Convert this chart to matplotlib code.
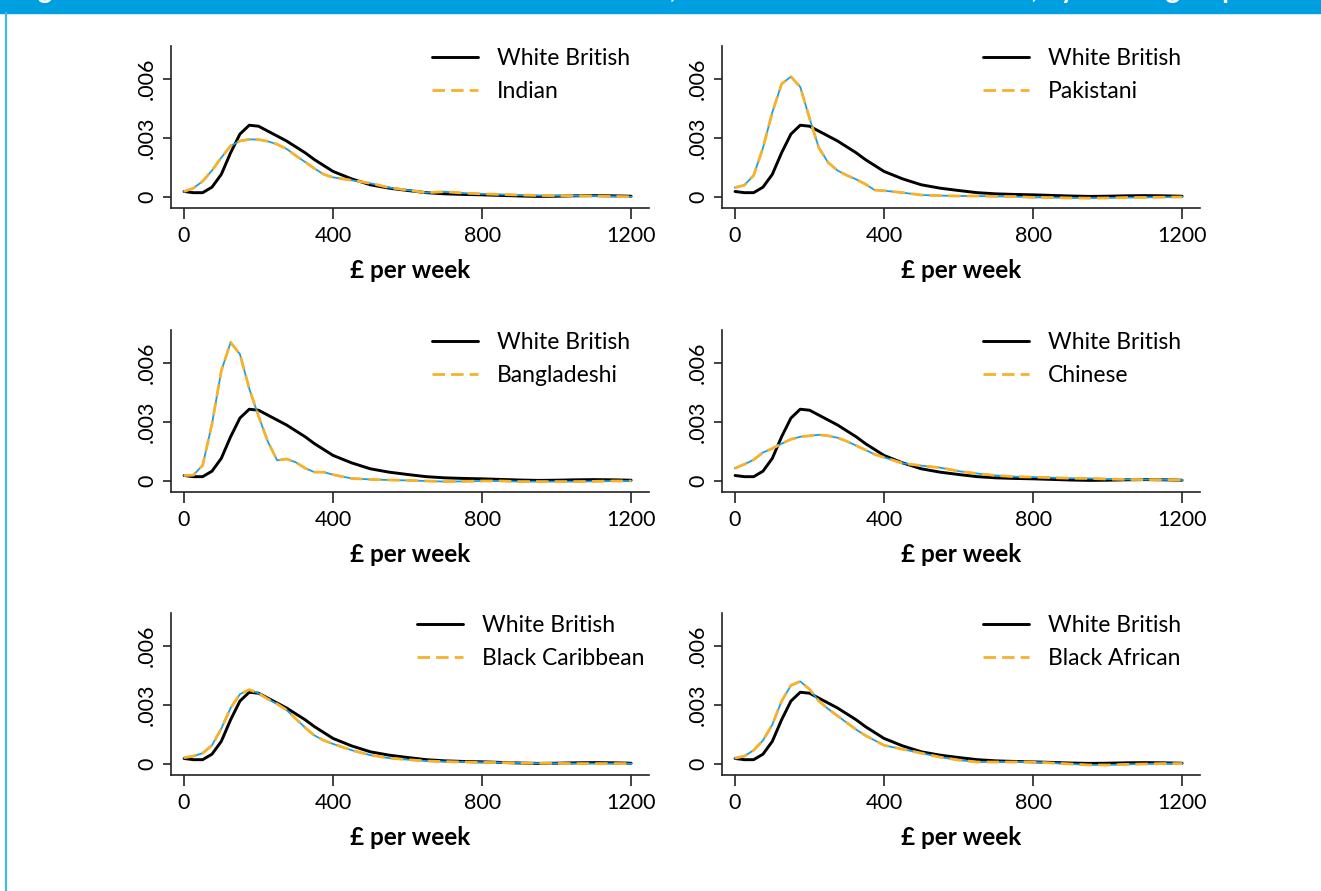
import matplotlib
matplotlib.use("Agg")
import matplotlib.pyplot as plt
from matplotlib.patches import Rectangle
from matplotlib.lines import Line2D

plt.rcParams['font.family'] = ['Lato', 'DejaVu Sans']

# income grid (GBP per week)
x = [0, 25, 50, 75, 100, 125, 150, 175, 200, 225, 250, 275, 300, 325, 350, 375, 400,
     450, 500, 550, 600, 650, 700, 750, 800, 850, 900, 950, 1000, 1050, 1100, 1150, 1200]

# densities, in units of 0.001
white_british = [0.28, 0.22, 0.22, 0.50, 1.15, 2.25, 3.2, 3.65, 3.6, 3.35, 3.1, 2.85, 2.55, 2.25, 1.9, 1.6, 1.3,
                 0.92, 0.62, 0.45, 0.33, 0.22, 0.16, 0.13, 0.11, 0.08, 0.05, 0.03, 0.04, 0.06, 0.07, 0.06, 0.04]
indian = [0.28, 0.45, 0.8, 1.35, 2.0, 2.6, 2.85, 2.93, 2.92, 2.83, 2.68, 2.45, 2.1, 1.78, 1.45, 1.15, 1.0,
          0.85, 0.7, 0.48, 0.35, 0.22, 0.27, 0.2, 0.16, 0.13, 0.1, 0.08, 0.07, 0.06, 0.05, 0.03, 0.01]
pakistani = [0.48, 0.6, 1.1, 2.5, 4.3, 5.75, 6.12, 5.6, 4.0, 2.5, 1.75, 1.35, 1.1, 0.9, 0.65, 0.35, 0.32,
             0.22, 0.1, 0.07, 0.05, 0.05, 0.03, 0.02, -0.02, -0.03, -0.05, -0.06, -0.05, -0.03, -0.02, -0.01, 0.0]
bangladeshi = [0.28, 0.3, 0.8, 2.9, 5.6, 7.05, 6.45, 4.7, 3.3, 2.0, 1.05, 1.12, 0.95, 0.65, 0.45, 0.45, 0.32,
               0.13, 0.08, 0.05, 0.03, 0.0, -0.03, -0.02, 0.0, 0.0, -0.03, -0.03, -0.03, -0.03, -0.02, 0.0, 0.0]
chinese = [0.65, 0.85, 1.08, 1.45, 1.65, 1.9, 2.12, 2.25, 2.3, 2.35, 2.3, 2.2, 2.02, 1.8, 1.58, 1.35, 1.2,
           0.9, 0.78, 0.68, 0.5, 0.38, 0.28, 0.22, 0.2, 0.17, 0.14, 0.13, 0.1, 0.08, 0.07, 0.06, 0.05]
black_caribbean = [0.32, 0.4, 0.55, 0.95, 1.8, 2.85, 3.55, 3.78, 3.6, 3.3, 3.05, 2.75, 2.3, 1.85, 1.45, 1.2, 1.02,
                   0.7, 0.45, 0.3, 0.22, 0.15, 0.12, 0.1, 0.08, 0.07, 0.05, 0.04, 0.03, 0.02, 0.02, 0.02, 0.02]
black_african = [0.3, 0.4, 0.7, 1.2, 2.0, 3.2, 4.0, 4.2, 3.8, 3.2, 2.8, 2.45, 2.1, 1.75, 1.45, 1.2, 0.95,
                 0.75, 0.55, 0.35, 0.2, 0.1, 0.1, 0.1, 0.1, 0.05, 0.0, -0.05, -0.05, -0.02, 0.0, 0.02, 0.02]

groups = ["Indian", "Pakistani", "Bangladeshi", "Chinese", "Black Caribbean", "Black African"]
group_values = [indian, pakistani, bangladeshi, chinese, black_caribbean, black_african]

xticks = [0, 400, 800, 1200]
yticks = [0, 0.003, 0.006]
ytick_labels = ["0", ".003", ".006"]

BLUE = "#1ba1e2"
ORANGE = "#f7b12a"
W, H = 1321, 891

fig = plt.figure(figsize=(W / 100, H / 100), dpi=100)

# title band and left rule
fig.patches.append(Rectangle((0, 1 - 13 / H), 1, 13 / H, transform=fig.transFigure,
                             color="#009fe0", zorder=0))
fig.add_artist(Line2D([6 / W, 6 / W], [0, 1 - 13 / H], transform=fig.transFigure,
                      color="#45b7e8", lw=1.6))
# title runs off the top edge, only its lowest part shows in the band
fig.text(15 / W, 1 + 2 / H,
         "Figure 4.2: Distribution of total individual net income, for all adults in Great Britain, by ethnic group",
         color="white", fontsize=20, fontweight="bold", va="baseline", ha="left")

lefts = [171, 722]
bottoms = [208, 492, 775]
aw, ah = 478, 162

to_d = lambda v: [a / 1000 for a in v]

for i, (name, vals) in enumerate(zip(groups, group_values)):
    r, c = divmod(i, 2)
    ax = fig.add_axes([lefts[c] / W, 1 - bottoms[r] / H, aw / W, ah / H])
    wb, = ax.plot(x, to_d(white_british), color="black", lw=2.1, zorder=3,
                  solid_joinstyle="round", solid_capstyle="round")
    ax.plot(x, to_d(vals), color=BLUE, lw=1.3, zorder=4, solid_joinstyle="round")
    grp, = ax.plot(x, to_d(vals), color=ORANGE, lw=2.0, ls=(0, (4.5, 2.2)), zorder=5,
                   dash_joinstyle="round")

    ax.set_xlim(-35, 1248)
    ax.set_ylim(-0.00056, 0.00768)
    ax.set_xticks(xticks)
    ax.set_xticklabels([str(t) for t in xticks])
    ax.set_yticks(yticks)
    ax.set_yticklabels(ytick_labels, rotation=90, va="center")
    for s in ["top", "right"]:
        ax.spines[s].set_visible(False)
    for s in ["left", "bottom"]:
        ax.spines[s].set_linewidth(1.2)
        ax.spines[s].set_color("#222222")
    ax.tick_params(axis="x", length=8, width=1.2, labelsize=15.5, pad=5, color="#222222")
    ax.tick_params(axis="y", length=6, width=1.2, labelsize=15.5, pad=4, color="#222222")
    ax.set_xlabel("£ per week", fontsize=17.5, fontweight="bold", labelpad=9)

    ax.legend([wb, grp], ["White British", name], loc="upper center", bbox_to_anchor=(0.753, 0.985),
              frameon=False, fontsize=16.5, handlelength=2.0, handletextpad=0.85,
              labelspacing=0.5, borderpad=0, borderaxespad=0)

fig.savefig("out.png", dpi=100)
